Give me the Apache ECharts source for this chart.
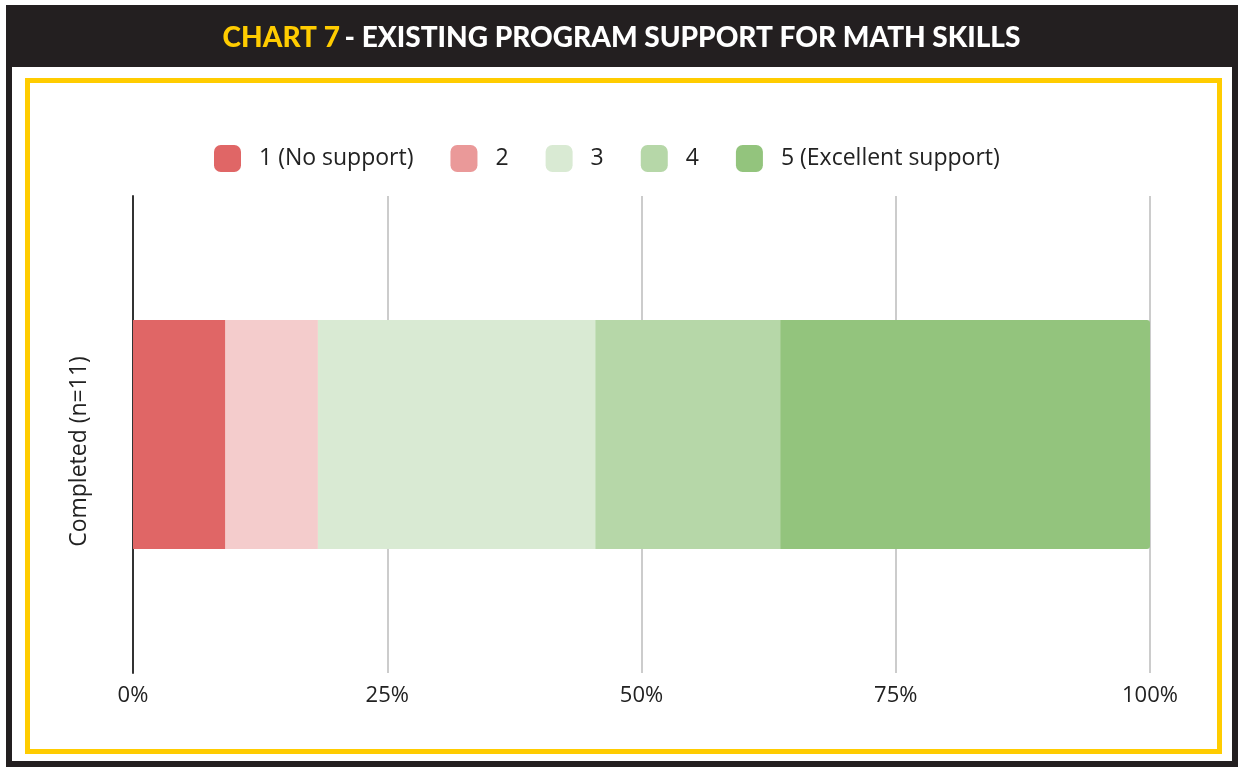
<!DOCTYPE html>
<html>
<head>
<meta charset="utf-8">
<script src="https://cdn.jsdelivr.net/npm/echarts@6/dist/echarts.min.js"></script>
<style>
html, body { margin: 0; padding: 0; background: #ffffff; }
#chart { width: 1243px; height: 768px; }
</style>
</head>
<body>
<div id="chart"></div>
<script>
// data
var categories = ['Completed (n=11)']
var respondents = 11
var seriesNames = ['1 (No support)', '2', '3', '4', '5 (Excellent support)']
var counts = [1, 1, 3, 2, 4]
var barColors = ['#E06666', '#F4CCCC', '#D9EAD3', '#B6D7A8', '#93C47D']
var legendColors = ['#E06666', '#EA9999', '#D9EAD3', '#B6D7A8', '#93C47D']
var tickLabels = ['0%', '25%', '50%', '75%', '100%']

var chart = echarts.init(document.getElementById('chart'))

var series = seriesNames.map(function (name, i) {
    return {
        name: name,
        type: 'bar',
        stack: 'total',
        barWidth: 229,
        color: barColors[i],
        itemStyle: {
            borderRadius: i === seriesNames.length - 1 ? [0, 3, 3, 0] : 0
        },
        data: [counts[i] / respondents * 100]
    }
})

chart.setOption({
    animation: false,
    textStyle: { fontFamily: 'Open Sans' },
    title: {
        text: '{y|CHART 7} {w|- EXISTING PROGRAM SUPPORT FOR MATH SKILLS}',
        left: 'center',
        top: 19,
        textStyle: {
            rich: {
                y: { color: '#FFCC00', fontSize: 28, fontWeight: 900, fontFamily: 'Lato' },
                w: { color: '#ffffff', fontSize: 28, fontWeight: 900, fontFamily: 'Lato' }
            }
        }
    },
    graphic: [
        // outer dark frame and header band
        { type: 'rect', z: -10, shape: { x: 9, y: 8, width: 1226, height: 756 },
          style: { fill: '#ffffff', stroke: '#231F20', lineWidth: 6 } },
        { type: 'rect', z: -9, shape: { x: 6, y: 5, width: 1232, height: 62 },
          style: { fill: '#231F20' } },
        // yellow inner frame
        { type: 'rect', z: -8, shape: { x: 27.5, y: 80.5, width: 1192, height: 671 },
          style: { fill: 'none', stroke: '#FFCC00', lineWidth: 5 } }
    ],
    legend: {
        top: 140,
        left: 209,
        icon: 'roundRect',
        itemWidth: 27,
        itemHeight: 27,
        itemGap: 37,
        textStyle: { fontSize: 23, color: '#222222', padding: [0, 0, 0, 13] },
        data: seriesNames.map(function (name, i) {
            return { name: name, itemStyle: { color: legendColors[i] } }
        })
    },
    grid: {
        left: 133,
        right: 93,
        top: 196,
        bottom: 95
    },
    xAxis: {
        type: 'value',
        min: 0,
        max: 100,
        interval: 25,
        axisLine: { show: false },
        axisTick: { show: false },
        axisLabel: {
            fontSize: 22,
            color: '#222222',
            margin: 12,
            formatter: function (v) { return tickLabels[v / 25] }
        },
        splitLine: { lineStyle: { color: '#CCCCCC', width: 2 } }
    },
    yAxis: {
        type: 'category',
        data: categories,
        axisLine: { show: true, lineStyle: { color: '#333333', width: 2 } },
        axisTick: { show: false },
        axisLabel: {
            rotate: 90,
            fontSize: 23,
            color: '#222222',
            margin: 42,
            padding: [0, 34, 0, 0]
        }
    },
    series: series
})
</script>
</body>
</html>
